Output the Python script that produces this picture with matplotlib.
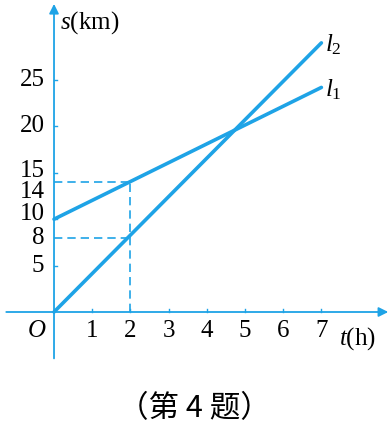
import matplotlib
matplotlib.use("Agg")
import matplotlib.pyplot as plt

plt.rcParams["mathtext.fontset"] = "custom"
plt.rcParams["mathtext.it"] = "Liberation Serif:italic"
plt.rcParams["mathtext.rm"] = "Liberation Serif"

# data
t_ticks = [1, 2, 3, 4, 5, 6, 7]
s_ticks = [5, 10, 15, 20, 25]
s_marks = [8, 14]          # dashed guide levels at t = 2
t_mark = 2
l1_t = [0, 7]
l1_s = [10, 24.2]
l2_t = [0, 7]
l2_s = [0, 29]

blue = "#1ea3e6"
serif = ["Liberation Serif", "DejaVu Serif"]

fig = plt.figure(figsize=(3.89, 4.28), dpi=100)
ax = fig.add_axes([0, 0, 1, 1])
ax.set_xlim(-1.414, 8.77)
ax.set_ylim(-12.5, 33.62)
ax.axis("off")

# axes with arrows
ax.annotate("", xy=(8.75, 0), xytext=(-1.25, 0),
            arrowprops=dict(arrowstyle="-|>", color=blue, lw=1.3,
                            mutation_scale=14, shrinkA=0, shrinkB=0))
ax.annotate("", xy=(0, 33.2), xytext=(0, -5),
            arrowprops=dict(arrowstyle="-|>", color=blue, lw=1.3,
                            mutation_scale=14, shrinkA=0, shrinkB=0))

# tick marks
for t in t_ticks:
    ax.plot([t, t], [0, 0.35], color=blue, lw=1)
for s in s_ticks:
    ax.plot([0, 0.08], [s, s], color=blue, lw=1)

# dashed guides
for s in s_marks:
    ax.plot([0, t_mark], [s, s], color=blue, lw=1.2, ls=(0, (5, 3)))
ax.plot([t_mark, t_mark], [0, max(s_marks)], color=blue, lw=1.2, ls=(0, (5, 3)))

# the two lines
ax.plot(l1_t, l1_s, color=blue, lw=2.6, solid_capstyle="round")
ax.plot(l2_t, l2_s, color=blue, lw=2.6, solid_capstyle="round")

# tick labels
for t in t_ticks:
    ax.text(t, -2.1, str(t), ha="center", va="center", fontsize=18, family=serif)
y_label_pos = {5: 5, 8: 8, 10: 10.6, 14: 12.9, 15: 15.2, 20: 20, 25: 25}
for s in sorted(set(s_ticks + s_marks)):
    ax.text(-0.25, y_label_pos[s], str(s), ha="right", va="center",
            fontsize=18, family=serif)
ax.text(-0.45, -2.1, "O", ha="center", va="center", fontsize=18,
        family=serif, style="italic")

# axis names
ax.text(0.15, 31.2, "$s$(km)", ha="left", va="center", fontsize=18,
        family=serif)
ax.text(7.45, -2.9, "$t$(h)", ha="left", va="center", fontsize=18,
        family=serif)

# line labels
ax.text(7.1, 28.8, "$l_2$", ha="left", va="center", fontsize=18)
ax.text(7.1, 24.0, "$l_1$", ha="left", va="center", fontsize=18)

# caption
fig.text(0.5, 0.046, "（第 4 题）", ha="center", va="center", fontsize=22,
         family=["Noto Sans CJK SC", "DejaVu Sans"])

fig.savefig("out.png", dpi=100)
